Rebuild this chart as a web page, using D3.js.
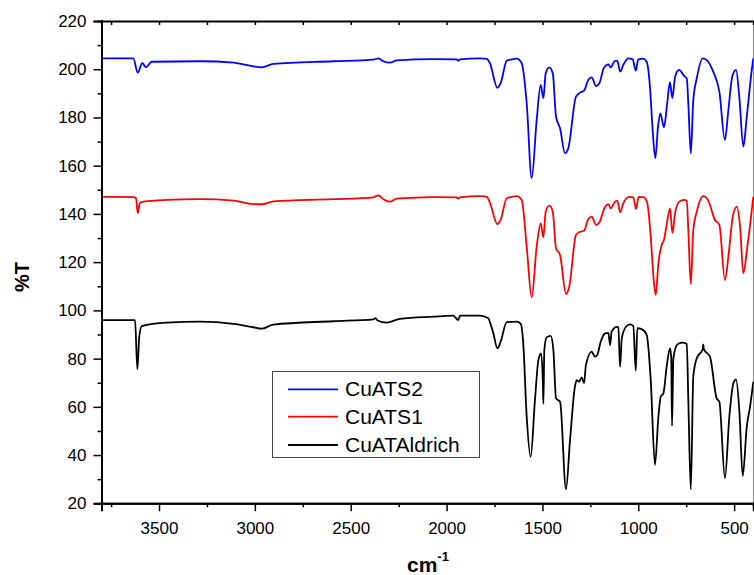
<!DOCTYPE html>
<html>
<head>
<meta charset="utf-8">
<script src="https://cdn.jsdelivr.net/npm/d3@7"></script>
<style>
  html, body { margin: 0; padding: 0; background: #fff; }
  svg { display: block; }
  text { font-family: Arial, "Liberation Sans", sans-serif; }
</style>
</head>
<body>
<svg id="chart" width="754" height="575"></svg>
<script>
// ---- data: [wavenumber (cm-1), %T] ----
const seriesNames = ["CuATS2", "CuATS1", "CuATAldrich"];
const seriesColors = ["#0000ff", "#ff0000", "#000000"];

const cuATS2 = [
  [3800,204.5],[3634,204.5],[3611,198.6],[3587,202.5],[3568,200.8],[3538,203.1],[3286,203.3],
  [3112,202.7],[3008,201.2],[2964,200.8],[2904,202.2],[2591,203.3],[2382,204.0],[2356,204.5],
  [2330,203.3],[2295,202.7],[2260,203.7],[2069,204.2],[1947,204.1],[1940,203.5],[1930,204.1],
  [1826,204.5],[1791,204.3],[1774,202.5],[1735,192.3],[1718,194.2],[1686,203.5],[1660,204.1],
  [1634,204.4],[1608,202.5],[1582,185.9],[1556,154.8],[1530,178.9],[1509,193.5],[1495,188.0],
  [1483,198.3],[1464,200.8],[1446,198.3],[1429,180.3],[1408,175.5],[1382,165.1],[1365,167.2],
  [1325,188.6],[1304,190.3],[1283,191.1],[1261,195.5],[1243,196.6],[1220,193.0],[1203,194.2],
  [1179,200.6],[1156,202.0],[1144,200.8],[1121,203.5],[1109,203.5],[1095,199.0],[1078,201.8],
  [1052,204.5],[1029,204.1],[1013,199.4],[1000,204.1],[974,204.4],[956,203.1],[939,192.7],
  [925,174.8],[911,163.1],[897,176.2],[885,181.7],[866,175.9],[849,185.9],[835,194.6],
  [822,188.0],[808,196.9],[787,199.7],[761,197.2],[747,196.2],[739,185.9],[726,165.1],
  [713,187.2],[695,196.2],[664,204.5],[643,203.8],[609,199.0],[577,190.7],[548,170.6],
  [530,183.1],[510,196.9],[490,199.7],[473,188.6],[452,167.9],[434,180.3],[408,199.7],[400,204.5]
];

const cuATS1 = [
  [3800,147.1],[3634,147.0],[3620,146.5],[3611,140.3],[3600,144.5],[3582,145.1],[3460,145.8],
  [3286,146.1],[3112,145.5],[3008,144.1],[2964,144.0],[2904,145.2],[2591,146.1],[2382,146.9],
  [2356,147.7],[2330,146.1],[2295,145.1],[2260,146.3],[2069,147.0],[1947,146.9],[1940,146.3],
  [1930,146.9],[1826,147.4],[1791,147.2],[1774,144.7],[1735,135.7],[1718,137.5],[1686,146.5],
  [1634,147.4],[1608,145.8],[1582,126.4],[1556,105.4],[1530,126.4],[1509,136.1],[1495,130.3],
  [1483,140.9],[1464,143.4],[1446,140.9],[1429,125.7],[1408,123.0],[1377,106.8],[1360,109.8],
  [1325,131.3],[1304,132.6],[1283,133.0],[1261,137.8],[1243,138.9],[1220,135.4],[1203,136.4],
  [1173,143.0],[1156,144.1],[1144,142.3],[1121,145.1],[1109,145.5],[1095,140.7],[1078,144.4],
  [1047,147.1],[1026,146.9],[1012,142.0],[998,147.1],[970,146.9],[953,144.4],[935,130.6],
  [921,114.0],[909,106.4],[895,119.5],[878,127.1],[866,129.2],[852,135.4],[834,142.3],
  [822,132.0],[808,140.3],[786,145.1],[761,145.8],[747,145.5],[739,133.3],[726,110.9],
  [713,133.3],[695,140.9],[661,147.4],[635,145.5],[600,137.5],[577,135.4],[548,112.6],
  [530,122.3],[507,138.9],[486,143.0],[469,134.7],[452,115.4],[431,126.4],[400,147.1]
];

const cuATAldrich = [
  [3800,96.0],[3625,96.0],[3613,75.6],[3603,89.1],[3590,93.5],[3460,94.9],[3286,95.3],
  [3112,94.4],[3008,93.0],[2964,92.4],[2904,94.1],[2591,95.5],[2382,96.3],[2370,96.8],
  [2360,95.8],[2312,94.9],[2243,96.5],[2069,97.4],[1965,97.8],[1939,96.0],[1930,97.8],
  [1826,97.8],[1782,96.7],[1773,94.9],[1756,90.5],[1735,84.3],[1718,87.0],[1686,95.1],
  [1634,95.3],[1613,94.4],[1600,86.3],[1582,55.9],[1561,39.3],[1539,62.8],[1521,79.4],
  [1507,82.2],[1498,71.1],[1495,61.2],[1490,83.6],[1478,88.8],[1457,89.4],[1443,83.6],
  [1429,63.5],[1408,62.1],[1377,25.8],[1356,46.2],[1330,68.6],[1321,71.1],[1309,70.4],
  [1295,72.2],[1283,69.8],[1273,77.3],[1243,82.9],[1226,80.8],[1214,81.5],[1196,87.0],
  [1173,90.5],[1156,90.7],[1147,85.6],[1139,91.2],[1112,93.2],[1104,93.0],[1095,76.6],
  [1086,88.4],[1064,93.2],[1043,94.2],[1026,93.5],[1013,75.0],[1005,92.6],[982,92.2],
  [956,89.8],[935,71.1],[913,35.9],[895,55.9],[883,64.2],[869,65.6],[852,76.6],[834,84.3],
  [828,80.0],[824,52.1],[817,80.1],[796,85.9],[773,86.6],[747,86.1],[739,62.8],[726,25.8],
  [713,72.5],[695,80.1],[664,83.9],[661,85.9],[658,83.9],[626,80.8],[591,63.5],[577,62.1],
  [548,30.4],[525,55.9],[504,69.8],[490,71.4],[473,58.7],[455,31.3],[434,51.8],[417,60.1],[400,70.4]
];

const xTickValues = [3500, 3000, 2500, 2000, 1500, 1000, 500];
const yTickValues = [20, 40, 60, 80, 100, 120, 140, 160, 180, 200, 220];
const xDomain = [3800, 400];
const yDomain = [20, 220];

const allSeries = [cuATS2, cuATS1, cuATAldrich];

// ---- layout ----
const svg = d3.select("#chart");
const L = 101.5, R = 753.3, T = 21, B = 503.3;

const x = d3.scaleLinear().domain(xDomain).range([L, R]);
const y = d3.scaleLinear().domain(yDomain).range([B, T]);

svg.append("rect").attr("width", 754).attr("height", 575).attr("fill", "#fff");

svg.append("defs").append("clipPath").attr("id", "clip")
  .append("rect").attr("x", L).attr("y", T).attr("width", 754 - L).attr("height", B - T);

// lines
const line = d3.line().x(d => x(d[0])).y(d => y(d[1])).curve(d3.curveMonotoneX);
const g = svg.append("g").attr("clip-path", "url(#clip)");
allSeries.forEach((s, i) => {
  g.append("path").datum(s).attr("d", line)
    .attr("fill", "none").attr("stroke", seriesColors[i])
    .attr("stroke-width", 1.8).attr("stroke-linejoin", "round");
});

// minor tick values
const xMinor = d3.range(3750, 399, -250).filter(v => !xTickValues.includes(v));
const yMinor = d3.range(30, 220, 20);

function styleAxis(sel) {
  sel.select(".domain").attr("stroke", "#000").attr("stroke-width", 2);
  sel.selectAll(".tick line").attr("stroke", "#000").attr("stroke-width", 1.5);
  sel.selectAll("text").attr("font-size", 17).attr("fill", "#000")
    .attr("font-family", "Arial, 'Liberation Sans', sans-serif");
}

// right frame
svg.append("line").attr("x1", R + 0.5).attr("x2", R + 0.5).attr("y1", T).attr("y2", B)
  .attr("stroke", "#555").attr("stroke-width", 1);

// bottom axis
svg.append("g").attr("transform", `translate(0,${B})`)
  .call(d3.axisBottom(x).tickValues(xMinor).tickSize(4).tickFormat(""))
  .call(styleAxis);
svg.append("g").attr("transform", `translate(0,${B})`)
  .call(d3.axisBottom(x).tickValues(xTickValues).tickSize(8).tickPadding(11).tickFormat(d3.format("d")))
  .call(styleAxis);

// top axis (ticks inward)
svg.append("g").attr("transform", `translate(0,${T})`)
  .call(d3.axisTop(x).tickValues(xTickValues.concat(xMinor)).tickSize(-4).tickFormat(""))
  .call(styleAxis);

// left axis
svg.append("g").attr("transform", `translate(${L},0)`)
  .call(d3.axisLeft(y).tickValues(yMinor).tickSize(4).tickFormat(""))
  .call(styleAxis);
svg.append("g").attr("transform", `translate(${L},0)`)
  .call(d3.axisLeft(y).tickValues(yTickValues).tickSize(8).tickPadding(7).tickFormat(d3.format("d")))
  .call(styleAxis);

// axis titles
svg.append("text").attr("transform", "translate(29,277) rotate(-90)")
  .attr("text-anchor", "middle").attr("font-weight", "bold").attr("font-size", 20)
  .text("%T");

const xt = svg.append("text").attr("x", 407).attr("y", 572)
  .attr("font-weight", "bold").attr("font-size", 21);
xt.append("tspan").text("cm");
xt.append("tspan").attr("font-size", 13).attr("dy", -11).text("-1");

// legend
const lg = svg.append("g");
lg.append("rect").attr("x", 272.5).attr("y", 371.5).attr("width", 207).attr("height", 86)
  .attr("fill", "#fff").attr("stroke", "#444").attr("stroke-width", 1);
const rowsY = [389.3, 416.7, 445];
seriesNames.forEach((n, i) => {
  lg.append("line").attr("x1", 288).attr("x2", 338).attr("y1", rowsY[i]).attr("y2", rowsY[i])
    .attr("stroke", seriesColors[i]).attr("stroke-width", 1.8);
  lg.append("text").attr("x", 345).attr("y", rowsY[i] + 7).attr("font-size", 21)
    .attr("fill", "#000").text(n);
});
</script>
</body>
</html>
